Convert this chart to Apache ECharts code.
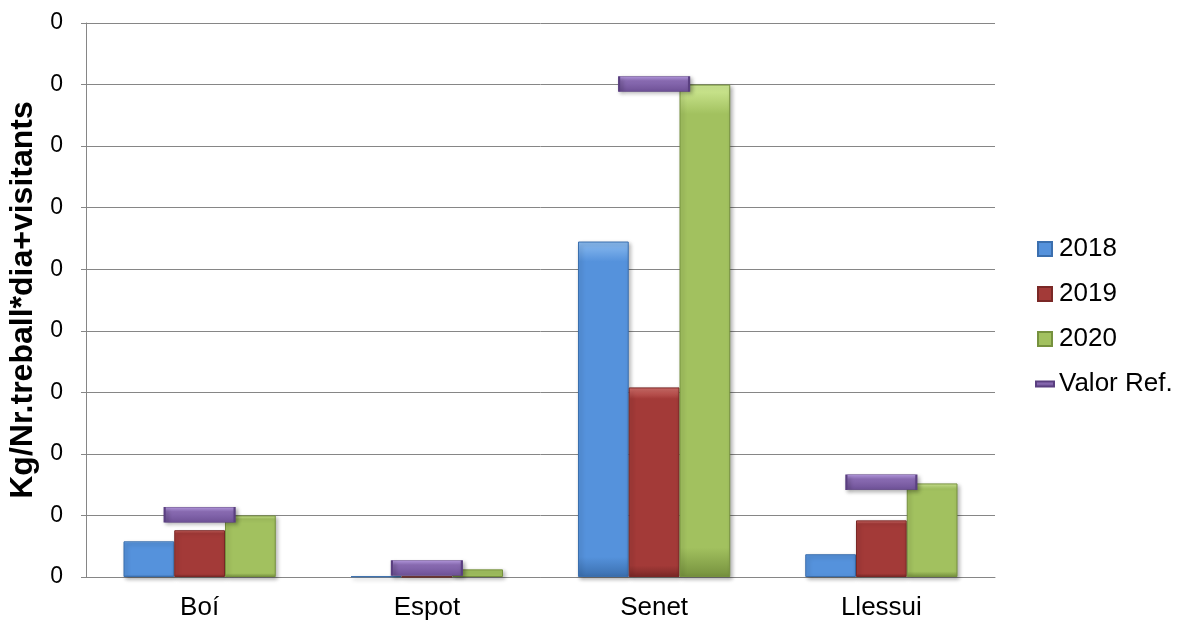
<!DOCTYPE html>
<html>
<head>
<meta charset="utf-8">
<script src="https://cdn.jsdelivr.net/npm/echarts@6/dist/echarts.min.js"></script>
<style>
  html, body { margin: 0; padding: 0; background: #fff; }
  #chart { width: 1178px; height: 622px; }
</style>
</head>
<body>
<div id="chart"></div>
<script>
// data (axis labels are rounded to 0 decimals, so all show "0")
const categories = ["Boí", "Espot", "Senet", "Llessui"];
const v2018 = [0.029, 0.0005, 0.2725, 0.0185];
const v2019 = [0.038, 0.0002, 0.154, 0.046];
const v2020 = [0.050, 0.0062, 0.400, 0.076];
const valorRef = [0.0505, 0.0073, 0.4005, 0.077];

const font = "'Liberation Sans', Arial, sans-serif";
const gridColor = "#868686";

function face(light, base, dark) {
  return new echarts.graphic.LinearGradient(0, 0, 0, 1, [
    { offset: 0, color: light },
    { offset: 0.06, color: base },
    { offset: 0.94, color: base },
    { offset: 1, color: dark },
  ]);
}

function barSeries(name, values, light, base, dark) {
  return {
    name,
    type: "bar",
    data: values,
    barGap: "0%",
    barCategoryGap: "33%",
    itemStyle: {
      color: face(light, base, dark),
      borderColor: dark,
      borderWidth: 1,
      shadowBlur: 4,
      shadowOffsetX: 2,
      shadowOffsetY: 2,
      shadowColor: "rgba(0,0,0,0.3)",
    },
  };
}

const squareIcon = "path://M0,0 L14,0 L14,14 L0,14 Z";
const lineIcon = "path://M0,0 L18,0 L18,5 L0,5 Z";

const myChart = echarts.init(document.getElementById("chart"));

myChart.setOption({
  animation: false,
  textStyle: { fontFamily: font },
  grid: { left: 86, right: 183, top: 23, bottom: 45, outerBoundsMode: "none", containLabel: false },
  legend: {
    orient: "vertical",
    left: 1030,
    top: 231,
    itemWidth: 18,
    itemHeight: 14,
    itemGap: 19,
    textStyle: { fontSize: 26, color: "#000", fontFamily: font },
    data: [
      { name: "2018", icon: squareIcon },
      { name: "2019", icon: squareIcon },
      { name: "2020", icon: squareIcon },
      { name: "Valor Ref.", icon: lineIcon },
    ],
  },
  xAxis: {
    type: "category",
    data: categories,
    axisLine: { lineStyle: { color: gridColor } },
    axisTick: { show: false },
    axisLabel: { fontSize: 26, color: "#000", margin: 18 },
  },
  yAxis: {
    type: "value",
    min: 0,
    max: 0.45,
    interval: 0.05,
    name: "Kg/Nr.treball*dia+visitants",
    nameLocation: "middle",
    nameRotate: 90,
    nameGap: 40,
    nameTextStyle: { fontSize: 32, fontWeight: "bold", color: "#000" },
    axisLine: { show: true, lineStyle: { color: gridColor } },
    axisTick: { show: true, length: 5, lineStyle: { color: gridColor } },
    axisLabel: {
      fontSize: 23,
      color: "#000",
      margin: 23,
      formatter: (v) => Math.abs(v).toFixed(0),
    },
    splitLine: { lineStyle: { color: gridColor, width: 1 } },
  },
  series: [
    barSeries("2018", v2018, "#8cbcf0", "#5592dc", "#3b6fae"),
    barSeries("2019", v2019, "#d4706c", "#a33a38", "#7a2826"),
    barSeries("2020", v2020, "#d2ec97", "#a2c15f", "#76913e"),
    {
      name: "Valor Ref.",
      type: "scatter",
      data: valorRef,
      symbol: "rect",
      symbolSize: [70, 15],
      z: 5,
      itemStyle: {
        color: new echarts.graphic.LinearGradient(0, 0, 0, 1, [
          { offset: 0, color: "#b59ae0" },
          { offset: 0.3, color: "#8a6cb3" },
          { offset: 1, color: "#6e5196" },
        ]),
        borderColor: "#5a3f80",
        borderWidth: 1,
        opacity: 1,
        shadowBlur: 4,
        shadowOffsetX: 2,
        shadowOffsetY: 2,
        shadowColor: "rgba(0,0,0,0.3)",
      },
    },
  ],
});
</script>
</body>
</html>
